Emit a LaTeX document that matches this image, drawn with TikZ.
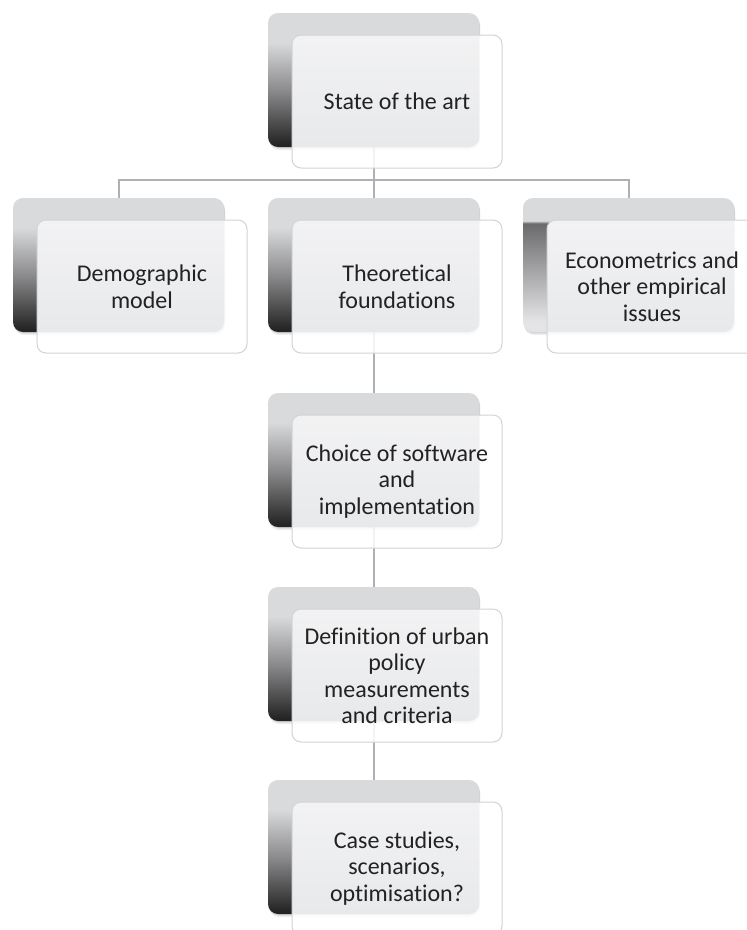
\documentclass[tikz,border=0pt]{standalone}
\usepackage{fontspec}
\setmainfont{Carlito}[Ligatures=NoCommon]
\usetikzlibrary{calc}
\definecolor{bkdark}{HTML}{242424}
\definecolor{bkmid}{HTML}{8A8A8C}
\definecolor{bklight}{HTML}{D9DADC}
\definecolor{eclight}{HTML}{E4E4E6}
\definecolor{ecdark}{HTML}{6A6A6C}
\definecolor{ovtop}{HTML}{F4F4F5}
\definecolor{ovbot}{HTML}{E8E9EB}
\definecolor{frontborder}{HTML}{D2D3D5}
\definecolor{connc}{HTML}{AEB0B4}
\definecolor{txt}{HTML}{222222}
\pgfdeclareverticalshading{backshade}{100bp}{color(0bp)=(bkdark); color(26bp)=(bkdark); color(46bp)=(bkmid); color(64bp)=(bklight); color(100bp)=(bklight)}
\pgfdeclareverticalshading{econshade}{100bp}{color(0bp)=(eclight); color(29bp)=(eclight); color(65.5bp)=(ecdark); color(66.5bp)=(bklight); color(100bp)=(bklight)}
\pgfdeclarelayer{background}
\pgfsetlayers{background,main}
\tikzset{
  backbox/.style={minimum width=211pt, minimum height=134pt, rounded corners=10pt, inner sep=0pt, outer sep=0pt, draw=none},
  frontbox/.style={minimum width=210pt, minimum height=133pt, rounded corners=9pt, inner sep=0pt,
    draw=frontborder, line width=1pt, fill=white, fill opacity=0.85, text opacity=1, text=txt,
    font=\fontsize{24}{26.5}\selectfont, align=center},
  conn/.style={draw=connc, line width=2pt}
}
\newcommand\smartunit[5]{%
  \foreach \s in {1,2,3} {\fill[black, opacity=0.06, rounded corners=10pt] (#2+1,#3+\s) rectangle ++(211,134);}
  \node[backbox, shading=#4] (#1b) at (#2+105.5,#3+67) {};
  \node[frontbox, path picture={%
      \begin{scope}
        \clip[rounded corners=10pt] (#1b.south west) rectangle (#1b.north east);
        \fill[fill opacity=1, top color=ovtop, bottom color=ovbot] (#1b.south west) rectangle (#1b.north east);
      \end{scope}}] (#1) at (#2+129,#3+88.5) {#5};
}
\begin{document}
\begin{tikzpicture}[x=1pt,y=-1pt]
\useasboundingbox (0,0) rectangle (747,930);
\smartunit{top}{268}{13}{backshade}{State of the art}
\smartunit{demo}{13}{198}{backshade}{Demographic\\model}
\smartunit{theo}{268}{198}{backshade}{Theoretical\\foundations}
\smartunit{econ}{523}{198}{econshade}{Econometrics and\\other empirical\\issues}
\smartunit{choice}{268}{393}{backshade}{Choice of software\\and\\implementation}
\smartunit{defn}{268}{587}{backshade}{Definition of urban\\policy\\measurements\\and criteria}
\smartunit{case}{268}{780}{backshade}{Case studies,\\scenarios,\\optimisation?}
\coordinate (hb) at (373.5,180);
\begin{pgfonlayer}{background}
\fill[white] (0,0) rectangle (747,930);
\draw[conn] (topb.south) -- (hb) -- (theob.north);
\draw[conn] (demob.north) |- (hb) -| (econb.north);
\draw[conn] (theob.south) -- (choiceb.north);
\draw[conn] (choiceb.south) -- (defnb.north);
\draw[conn] (defnb.south) -- (caseb.north);
\end{pgfonlayer}
\end{tikzpicture}
\end{document}
